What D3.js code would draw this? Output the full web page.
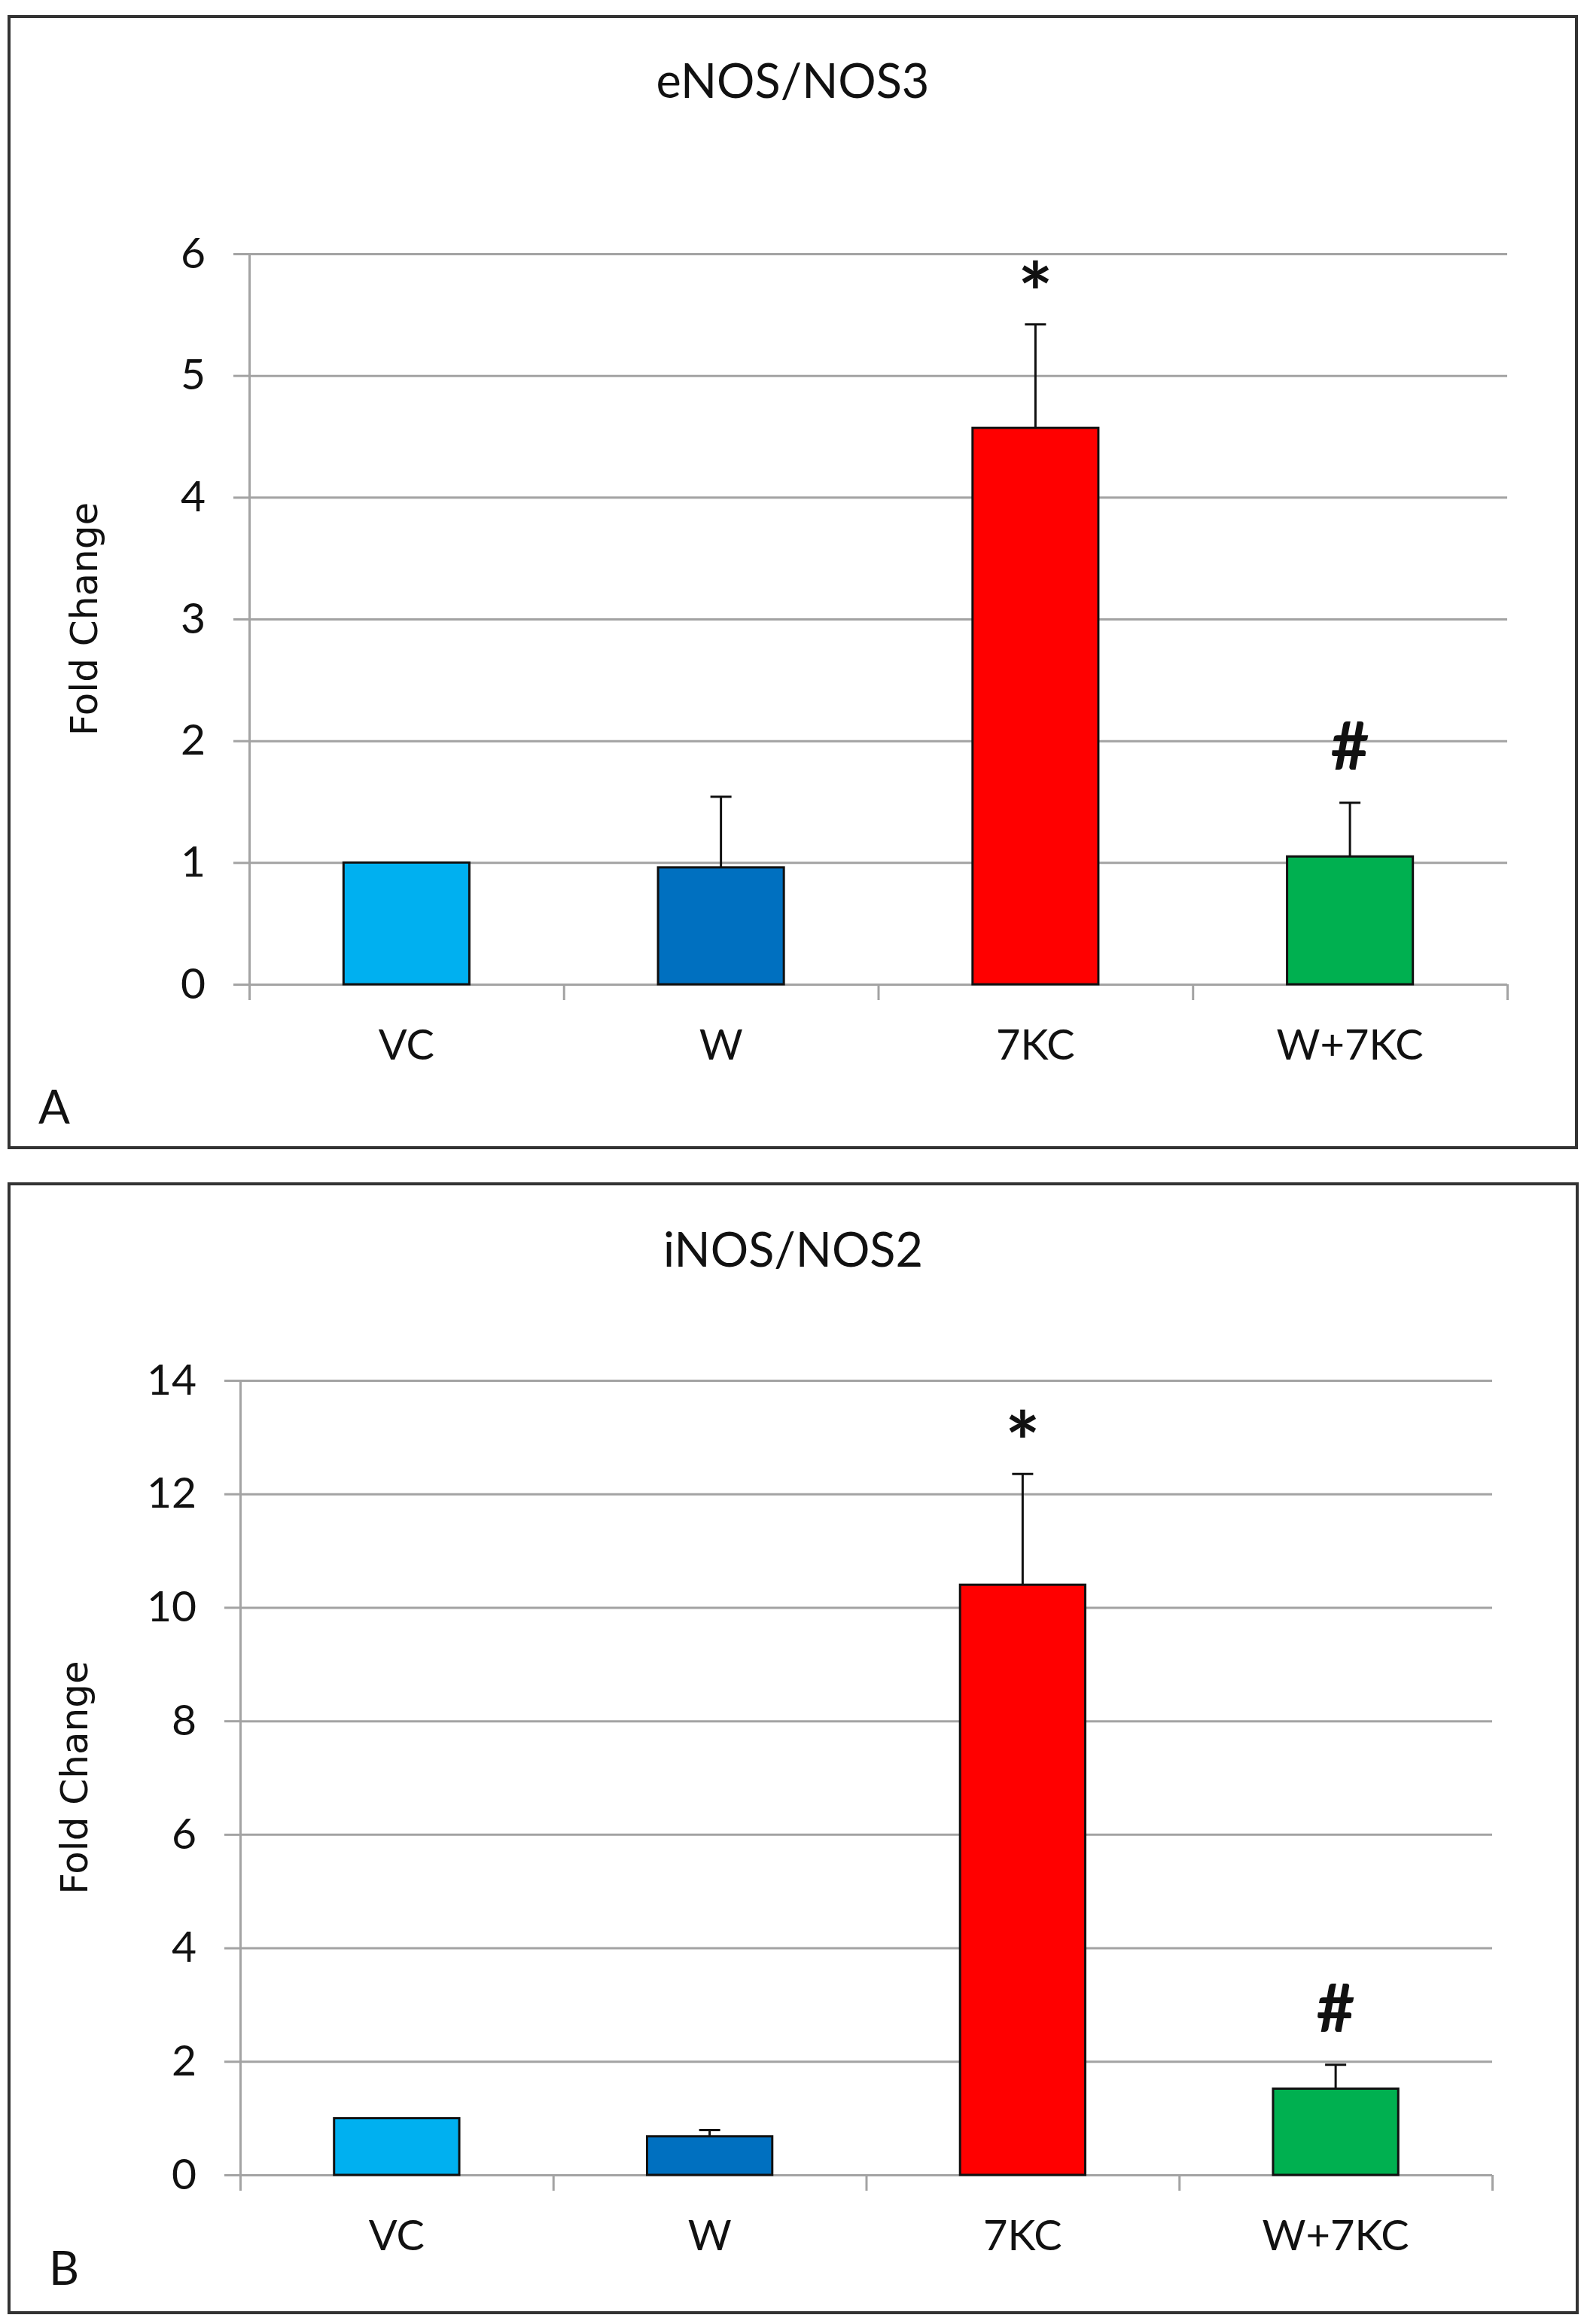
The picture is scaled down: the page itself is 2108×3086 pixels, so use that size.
<!DOCTYPE html>
<html>
<head>
<meta charset="utf-8">
<script src="https://cdn.jsdelivr.net/npm/d3@7"></script>
<style>
  body { margin: 0; background: #fff; }
  text { font-family: Lato, "Open Sans", sans-serif; fill: #111; }
</style>
</head>
<body>
<div id="svg"></div>
<script>
// chart data
const categories = ["VC", "W", "7KC", "W+7KC"];
const barColors = ["#00b0f0", "#0070c0", "#ff0000", "#00b050"];

const enosValues = [1.0, 0.96, 4.57, 1.05];
const enosErrors = [0, 0.58, 0.85, 0.44];
const enosMarks = ["", "", "*", "#"];
const enosTicks = [0, 1, 2, 3, 4, 5, 6];

const inosValues = [1.0, 0.68, 10.4, 1.52];
const inosErrors = [0, 0.11, 1.95, 0.42];
const inosMarks = ["", "", "*", "#"];
const inosTicks = [0, 2, 4, 6, 8, 10, 12, 14];

const width = 2108, height = 3086;

const panels = [
    {
        letter: "A", title: "eNOS/NOS3",
        values: enosValues, errors: enosErrors, marks: enosMarks, ticks: enosTicks,
        frame: {x: 12, y: 22, w: 2082, h: 1502},
        plot: {left: 331, right: 2002, top: 337, bottom: 1307},
        titleY: 130, ylabelX: 112, letterX: 51, letterY: 1492
    },
    {
        letter: "B", title: "iNOS/NOS2",
        values: inosValues, errors: inosErrors, marks: inosMarks, ticks: inosTicks,
        frame: {x: 12, y: 1572, w: 2083, h: 1499},
        plot: {left: 319, right: 1982, top: 1833, bottom: 2888},
        titleY: 1682, ylabelX: 99, letterX: 65, letterY: 3034
    }
];

const svg = d3.select("#svg")
    .append("svg")
    .attr("width", width)
    .attr("height", height);

svg.append("rect")
    .attr("width", width)
    .attr("height", height)
    .attr("fill", "#fff");

function drawPanel(p) {
    const g = svg.append("g");

    g.append("rect")
        .attr("x", p.frame.x)
        .attr("y", p.frame.y)
        .attr("width", p.frame.w)
        .attr("height", p.frame.h)
        .attr("fill", "none")
        .attr("stroke", "#333")
        .attr("stroke-width", 4);

    const yScale = d3.scaleLinear()
        .domain([0, d3.max(p.ticks)])
        .range([p.plot.bottom, p.plot.top]);

    const xScale = d3.scaleBand()
        .domain(categories)
        .range([p.plot.left, p.plot.right])
        .paddingInner(0.6)
        .paddingOuter(0.3);

    const xEdges = d3.scaleLinear()
        .domain([0, categories.length])
        .range([p.plot.left, p.plot.right]);

    const plotW = p.plot.right - p.plot.left;

    // gridlines
    g.append("g")
        .attr("transform", `translate(${p.plot.left},0)`)
        .call(d3.axisLeft(yScale).tickValues(p.ticks).tickSize(-plotW).tickFormat(""))
        .call(s => s.select(".domain").remove())
        .call(s => s.selectAll("line").attr("stroke", "#a3a3a3").attr("stroke-width", 3));

    // y axis with ticks and labels
    g.append("g")
        .attr("transform", `translate(${p.plot.left},0)`)
        .call(d3.axisLeft(yScale).tickValues(p.ticks).tickFormat(d3.format("d"))
            .tickSize(21).tickSizeOuter(0).tickPadding(37))
        .call(s => s.select(".domain").attr("stroke", "#a3a3a3").attr("stroke-width", 3))
        .call(s => s.selectAll("line").attr("stroke", "#a3a3a3").attr("stroke-width", 3))
        .call(s => s.selectAll("text")
            .attr("font-family", "Lato, sans-serif")
            .attr("font-size", 57)
            .attr("fill", "#111"));

    // x axis boundary ticks
    g.append("g")
        .attr("transform", `translate(0,${p.plot.bottom})`)
        .call(d3.axisBottom(xEdges).ticks(categories.length).tickSize(21).tickSizeOuter(0).tickFormat(""))
        .call(s => s.select(".domain").remove())
        .call(s => s.selectAll("line").attr("stroke", "#a3a3a3").attr("stroke-width", 3));

    // x labels
    g.append("g")
        .attr("transform", `translate(0,${p.plot.bottom})`)
        .call(d3.axisBottom(xScale).tickSize(0).tickPadding(60))
        .call(s => s.select(".domain").remove())
        .call(s => s.selectAll("text")
            .attr("font-family", "Lato, sans-serif")
            .attr("font-size", 56)
            .attr("fill", "#111"));

    // bars
    g.append("g")
        .selectAll("rect")
        .data(p.values)
        .join("rect")
        .attr("x", (d, i) => xScale(categories[i]))
        .attr("y", d => yScale(d))
        .attr("width", xScale.bandwidth())
        .attr("height", d => yScale(0) - yScale(d))
        .attr("fill", (d, i) => barColors[i])
        .attr("stroke", "#111")
        .attr("stroke-width", 3);

    // error bars (upper only)
    const errs = p.values.map((v, i) => ({v, e: p.errors[i], c: categories[i]})).filter(d => d.e > 0);
    const cx = c => xScale(c) + xScale.bandwidth() / 2;

    g.append("g")
        .selectAll("path")
        .data(errs)
        .join("path")
        .attr("d", d => `M${cx(d.c)},${yScale(d.v)}V${yScale(d.v + d.e)}M${cx(d.c) - 14},${yScale(d.v + d.e)}H${cx(d.c) + 14}`)
        .attr("fill", "none")
        .attr("stroke", "#111")
        .attr("stroke-width", 3);

    // significance marks
    g.append("g")
        .selectAll("text")
        .data(p.values.map((v, i) => ({top: v + p.errors[i], m: p.marks[i], c: categories[i]})).filter(d => d.m))
        .join("text")
        .attr("x", d => cx(d.c))
        .attr("y", d => yScale(d.top) - (d.m === "*" ? 2 : 44))
        .attr("text-anchor", "middle")
        .attr("font-size", d => d.m === "*" ? 110 : 88)
        .attr("font-weight", "bold")
        .text(d => d.m);

    // title
    g.append("text")
        .attr("x", p.frame.x + p.frame.w / 2)
        .attr("y", p.titleY)
        .attr("text-anchor", "middle")
        .attr("font-size", 63)
        .text(p.title);

    // y axis label
    g.append("text")
        .attr("transform", `translate(${p.ylabelX},${(p.plot.top + p.plot.bottom) / 2}) rotate(-90)`)
        .attr("text-anchor", "middle")
        .attr("dominant-baseline", "central")
        .style("font-family", "'DejaVu Sans', sans-serif")
        .attr("font-size", 50)
        .text("Fold Change");

    // panel letter
    g.append("text")
        .attr("x", p.letterX)
        .attr("y", p.letterY)
        .attr("font-size", 62)
        .text(p.letter);
}

panels.forEach(drawPanel);
</script>
</body>
</html>
